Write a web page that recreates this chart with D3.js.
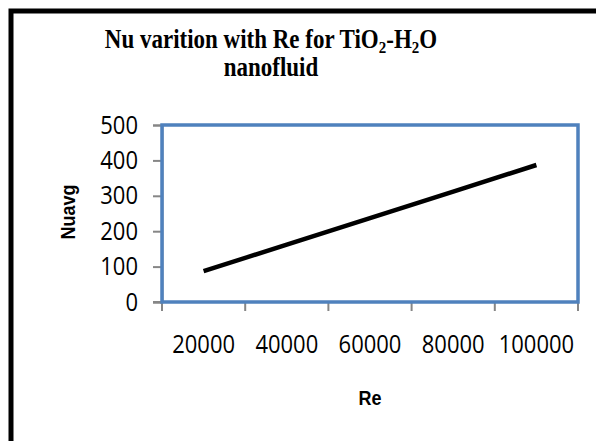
<!DOCTYPE html>
<html>
<head>
<meta charset="utf-8">
<script src="https://cdn.jsdelivr.net/npm/d3@7"></script>
<style>
    body { margin: 0; background: #fff; }
    svg { display: block; }
</style>
</head>
<body>
<svg id="chart"></svg>
<script>
const width = 596;
const height = 441;

// data
const categories = ['20000', '40000', '60000', '80000', '100000'];
const nuavg = [87, 162, 237, 312, 387];
const yTicks = [0, 100, 200, 300, 400, 500];

const plot = { left: 162, right: 578, top: 125, bottom: 302 };
const stretch = 1.15; // the source picture is a little taller than wide

const root = d3.select('svg#chart')
    .attr('width', width)
    .attr('height', height);

root.append('rect')
    .attr('width', width)
    .attr('height', height)
    .attr('fill', '#fff');

// outer chart border (only top and left edges show)
root.append('rect')
    .attr('x', 11)
    .attr('y', 11)
    .attr('width', 620)
    .attr('height', 460)
    .attr('fill', 'none')
    .attr('stroke', '#000')
    .attr('stroke-width', 5);

// TITLE -------------------------------------------
const titleFont = '"Liberation Serif", "Times New Roman", serif';

const title = root.append('text')
    .attr('transform', `translate(271,48) scale(1,${stretch})`)
    .attr('text-anchor', 'middle')
    .style('font-family', titleFont)
    .style('font-weight', 'bold')
    .style('font-size', '23px')
    .style('fill', '#000');

title.append('tspan').text('Nu varition with Re for TiO');
title.append('tspan').text('2').style('font-size', '15px').attr('dy', 4);
title.append('tspan').text('-H').attr('dy', -4);
title.append('tspan').text('2').style('font-size', '15px').attr('dy', 4);
title.append('tspan').text('O').attr('dy', -4);

root.append('text')
    .attr('transform', `translate(271,76) scale(1,${stretch})`)
    .attr('text-anchor', 'middle')
    .style('font-family', titleFont)
    .style('font-weight', 'bold')
    .style('font-size', '23px')
    .text('nanofluid');

// SCALES -------------------------------------------
const x = d3.scaleBand()
    .domain(categories)
    .range([plot.left, plot.right])
    .padding(0);

const y = d3.scaleLinear()
    .domain([0, 500])
    .range([plot.bottom, plot.top]);

const axisColor = '#868686';
const labelFont = '"Open Sans", "Liberation Sans", sans-serif';

// y axis
const yAxis = root.append('g')
    .attr('transform', `translate(${plot.left},0)`)
    .call(d3.axisLeft(y).tickValues(yTicks).tickSize(9).tickPadding(15));
yAxis.select('.domain').attr('stroke', axisColor).attr('stroke-width', 2);
yAxis.selectAll('.tick line').attr('stroke', axisColor).attr('stroke-width', 2);
yAxis.selectAll('.tick text')
    .attr('transform', `scale(1,${stretch})`)
    .style('font-family', labelFont)
    .style('font-size', '22px')
    .attr('fill', '#000');

// x axis: ticks sit between categories
const xAxis = root.append('g')
    .attr('transform', `translate(0,${plot.bottom})`);
xAxis.append('line')
    .attr('x1', plot.left - 9)
    .attr('x2', plot.right)
    .attr('stroke', axisColor)
    .attr('stroke-width', 2);
const boundaries = categories.map(c => x(c)).concat([x(categories[categories.length - 1]) + x.bandwidth()]);
xAxis.selectAll('.xtick')
    .data(boundaries)
    .enter()
    .append('line')
    .attr('class', 'xtick')
    .attr('x1', d => d)
    .attr('x2', d => d)
    .attr('y1', 0)
    .attr('y2', 9)
    .attr('stroke', axisColor)
    .attr('stroke-width', 2);
xAxis.selectAll('.xlabel')
    .data(categories)
    .enter()
    .append('text')
    .attr('class', 'xlabel')
    .attr('transform', d => `translate(${x(d) + x.bandwidth() / 2},51) scale(1,${stretch})`)
    .attr('text-anchor', 'middle')
    .style('font-family', labelFont)
    .style('font-size', '22px')
    .attr('fill', '#000')
    .text(d => d);

// plot area border
root.append('rect')
    .attr('x', plot.left)
    .attr('y', plot.top)
    .attr('width', plot.right - plot.left)
    .attr('height', plot.bottom - plot.top)
    .attr('fill', 'none')
    .attr('stroke', '#4F81BD')
    .attr('stroke-width', 3.5);

// series line
const line = d3.line()
    .x((d, i) => x(categories[i]) + x.bandwidth() / 2)
    .y(d => y(d));

root.append('path')
    .datum(nuavg)
    .attr('d', line)
    .attr('fill', 'none')
    .attr('stroke', '#000')
    .attr('stroke-width', 4.5);

// axis titles
root.append('text')
    .attr('transform', 'translate(75,212) rotate(-90) scale(1,1.1)')
    .attr('text-anchor', 'middle')
    .style('font-family', '"Liberation Sans", Arial, sans-serif')
    .style('font-weight', 'bold')
    .style('font-size', '18px')
    .text('Nuavg');

root.append('text')
    .attr('transform', `translate(370,405) scale(1,${stretch})`)
    .attr('text-anchor', 'middle')
    .style('font-family', '"Liberation Sans", Arial, sans-serif')
    .style('font-weight', 'bold')
    .style('font-size', '18px')
    .text('Re');
</script>
</body>
</html>
